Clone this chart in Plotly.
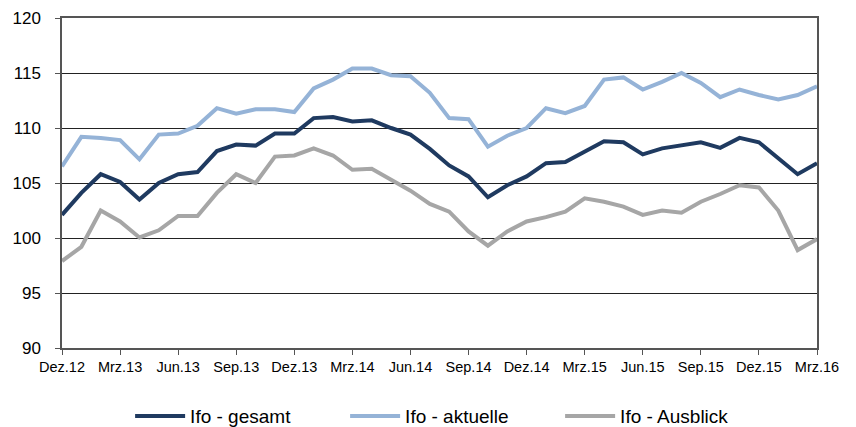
import plotly.graph_objects as go

months = ["Dez.12","Jan.13","Feb.13","Mrz.13","Apr.13","Mai.13","Jun.13","Jul.13","Aug.13","Sep.13","Okt.13","Nov.13",
          "Dez.13","Jan.14","Feb.14","Mrz.14","Apr.14","Mai.14","Jun.14","Jul.14","Aug.14","Sep.14","Okt.14","Nov.14",
          "Dez.14","Jan.15","Feb.15","Mrz.15","Apr.15","Mai.15","Jun.15","Jul.15","Aug.15","Sep.15","Okt.15","Nov.15",
          "Dez.15","Jan.16","Feb.16","Mrz.16"]

gesamt = [102.1, 104.1, 105.8, 105.1, 103.5, 105.0, 105.8, 106.0, 107.9, 108.5, 108.4, 109.5,
          109.5, 110.9, 111.0, 110.6, 110.7, 110.0, 109.4, 108.1, 106.6, 105.6, 103.7, 104.8,
          105.6, 106.8, 106.9, 107.8, 108.8, 108.7, 107.6, 108.15, 108.45, 108.7, 108.2, 109.1,
          108.7, 107.2, 105.8, 106.8]
aktuelle = [106.5, 109.2, 109.1, 108.9, 107.15, 109.4, 109.5, 110.2, 111.8, 111.3, 111.7, 111.7,
            111.45, 113.6, 114.4, 115.4, 115.4, 114.8, 114.7, 113.2, 110.9, 110.8, 108.3, 109.3,
            110.0, 111.8, 111.35, 112.0, 114.4, 114.6, 113.5, 114.2, 115.0, 114.1, 112.8, 113.5,
            113.0, 112.6, 113.0, 113.8]
ausblick = [97.9, 99.2, 102.5, 101.5, 100.05, 100.7, 102.0, 102.0, 104.1, 105.8, 105.0, 107.4,
            107.5, 108.15, 107.5, 106.2, 106.3, 105.3, 104.3, 103.1, 102.4, 100.6, 99.3, 100.6,
            101.5, 101.9, 102.4, 103.6, 103.3, 102.85, 102.1, 102.5, 102.3, 103.3, 104.0, 104.8,
            104.6, 102.5, 98.9, 99.9]

series_names = ["Ifo - gesamt", "Ifo - aktuelle", "Ifo - Ausblick"]
series_colors = ["#1F3A60", "#95B3D7", "#A6A6A6"]
y_ticks = [90, 95, 100, 105, 110, 115, 120]

x = list(range(len(months)))
fig = go.Figure()
for name, vals, col in zip(series_names, [gesamt, aktuelle, ausblick], series_colors):
    fig.add_trace(go.Scatter(x=x, y=vals, name=name, mode="lines",
                             line=dict(color=col, width=4)))

tick_idx = list(range(0, len(months), 3))
fig.update_layout(
    width=848, height=419,
    margin=dict(l=54, r=39, t=10, b=79),
    plot_bgcolor="white", paper_bgcolor="white",
    font=dict(family="Liberation Sans, Arial, sans-serif", color="#000"),
    showlegend=True,
    legend=dict(orientation="h", xref="container", yref="container",
                x=0.144, xanchor="left", y=0.026, yanchor="middle",
                font=dict(family="Liberation Sans, Arial, sans-serif", size=19),
                entrywidth=150, itemwidth=50, bgcolor="rgba(0,0,0,0)"),
    xaxis=dict(range=[0, len(months) - 1], tickmode="array", tickvals=tick_idx,
               ticktext=[months[i] for i in tick_idx], showgrid=False, zeroline=False,
               showline=True, linecolor="#555", linewidth=1.5, mirror=True,
               ticks="outside", ticklen=5, tickcolor="#555", automargin=False,
               tickfont=dict(size=14.5)),
    yaxis=dict(range=[90, 120], tickmode="array", tickvals=y_ticks, showgrid=True,
               gridcolor="#222", gridwidth=1, zeroline=False,
               showline=True, linecolor="#555", linewidth=1.5, mirror=True,
               ticks="outside", ticklen=5, tickcolor="#555", ticklabelstandoff=11,
               automargin=False, tickfont=dict(size=17)),
)
fig.write_html("out.html")
